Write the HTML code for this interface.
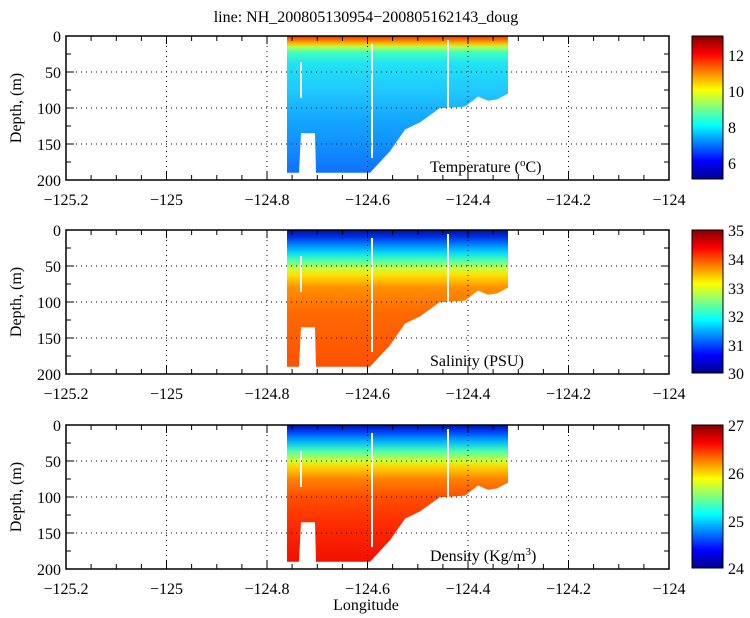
<!DOCTYPE html>
<html><head><meta charset="utf-8"><style>
body{margin:0;background:#fff}
svg{display:block}
text{font-family:"Liberation Serif",serif}
</style></head><body>
<svg width="750" height="618" viewBox="0 0 750 618" xmlns="http://www.w3.org/2000/svg" font-family="Liberation Serif, serif">
<defs>
<linearGradient id="gT" x1="0" y1="0" x2="0" y2="1">
<stop offset="0" stop-color="#e83000"/><stop offset="0.025" stop-color="#ff6a00"/><stop offset="0.05" stop-color="#ffb000"/><stop offset="0.08" stop-color="#b8ff48"/><stop offset="0.12" stop-color="#40ffc0"/><stop offset="0.2" stop-color="#20e4f4"/><stop offset="0.4" stop-color="#20c8ff"/><stop offset="0.6" stop-color="#14a8ff"/><stop offset="0.8" stop-color="#1090ff"/><stop offset="1" stop-color="#1070ff"/></linearGradient>
<linearGradient id="gS" x1="0" y1="0" x2="0" y2="1">
<stop offset="0" stop-color="#0010a0"/><stop offset="0.05" stop-color="#0030e0"/><stop offset="0.1" stop-color="#0078ff"/><stop offset="0.16" stop-color="#00d4ff"/><stop offset="0.22" stop-color="#48ffb0"/><stop offset="0.28" stop-color="#c8ff40"/><stop offset="0.33" stop-color="#ffe000"/><stop offset="0.42" stop-color="#ff9000"/><stop offset="0.6" stop-color="#ff6a00"/><stop offset="1" stop-color="#ff5000"/></linearGradient>
<linearGradient id="gD" x1="0" y1="0" x2="0" y2="1">
<stop offset="0" stop-color="#0010a0"/><stop offset="0.05" stop-color="#0040ff"/><stop offset="0.12" stop-color="#00b4ff"/><stop offset="0.19" stop-color="#48ffb0"/><stop offset="0.26" stop-color="#d0ff30"/><stop offset="0.31" stop-color="#ffd000"/><stop offset="0.4" stop-color="#ff8000"/><stop offset="0.52" stop-color="#ff5000"/><stop offset="0.72" stop-color="#ff2c00"/><stop offset="1" stop-color="#f01000"/></linearGradient>
<linearGradient id="jet" x1="0" y1="1" x2="0" y2="0">
<stop offset="0" stop-color="#00008f"/><stop offset="0.125" stop-color="#0000ff"/><stop offset="0.375" stop-color="#00ffff"/><stop offset="0.625" stop-color="#ffff00"/><stop offset="0.875" stop-color="#ff0000"/><stop offset="1" stop-color="#800000"/></linearGradient>
</defs>

<text x="366" y="22" font-size="16" text-anchor="middle">line: NH_200805130954−200805162143_doug</text>

<!-- ============ Panel 1 ============ -->
<g transform="translate(0,36)">
<path d="M287,0 L508,0 L508,57.6 L497,63.4 L488,64.8 L478,60.5 L465,70.6 L445,72 L440,72 L420,86.4 L405,93.6 L390,115.2 L380,126 L370,136.8 L316,136.8 L315,97.2 L301,97.2 L299,136.8 L287,136.8 Z" fill="url(#gT)"/>
<g stroke="#fff" stroke-width="2"><line x1="448" y1="4" x2="448" y2="72"/><line x1="372" y1="8" x2="372" y2="122"/><line x1="301" y1="26" x2="301" y2="62"/></g>
<g stroke="#000" stroke-width="1" stroke-dasharray="1,4" fill="none">
<path d="M166.5,0V144M267,0V144M367.5,0V144M468,0V144M568.5,0V144M66,36H669M66,72H669M66,108H669"/></g>
<rect x="66" y="0" width="603" height="144" fill="none" stroke="#000" stroke-width="1.5"/>
<g stroke="#000" stroke-width="1">
<path d="M91.1,0v5M116.3,0v5M141.4,0v5M166.5,0v8M191.6,0v5M216.8,0v5M241.9,0v5M267,0v8M292.1,0v5M317.3,0v5M342.4,0v5M367.5,0v8M392.6,0v5M417.8,0v5M442.9,0v5M468,0v8M493.1,0v5M518.3,0v5M543.4,0v5M568.5,0v8M593.6,0v5M618.8,0v5M643.9,0v5"/>
<path d="M91.1,144v-5M116.3,144v-5M141.4,144v-5M166.5,144v-8M191.6,144v-5M216.8,144v-5M241.9,144v-5M267,144v-8M292.1,144v-5M317.3,144v-5M342.4,144v-5M367.5,144v-8M392.6,144v-5M417.8,144v-5M442.9,144v-5M468,144v-8M493.1,144v-5M518.3,144v-5M543.4,144v-5M568.5,144v-8M593.6,144v-5M618.8,144v-5M643.9,144v-5"/>
<path d="M66,18h5M66,36h8M66,54h5M66,72h8M66,90h5M66,108h8M66,126h5M669,18h-5M669,36h-8M669,54h-5M669,72h-8M669,90h-5M669,108h-8M669,126h-5"/>
</g>
<g font-size="16" text-anchor="end"><text x="61" y="6">0</text><text x="61" y="42">50</text><text x="61" y="78">100</text><text x="61" y="114">150</text><text x="61" y="150">200</text></g>
<g font-size="16" text-anchor="middle"><text x="66" y="169">−125.2</text><text x="166.5" y="169">−125</text><text x="267" y="169">−124.8</text><text x="367.5" y="169">−124.6</text><text x="468" y="169">−124.4</text><text x="568.5" y="169">−124.2</text><text x="669" y="169">−124</text></g>
<text transform="translate(21,72) rotate(-90)" font-size="16" text-anchor="middle">Depth, (m)</text>
<text x="430" y="136" font-size="16">Temperature (<tspan font-size="11" dy="-6">o</tspan><tspan dy="6">C)</tspan></text>
<rect x="692" y="0" width="31" height="143" fill="url(#jet)" stroke="#000" stroke-width="1"/>
<g font-size="16"><text x="728" y="25">12</text><text x="728" y="61">10</text><text x="728" y="97">8</text><text x="728" y="133">6</text></g>
</g>

<!-- ============ Panel 2 ============ -->
<g transform="translate(0,230)">
<path d="M287,0 L508,0 L508,57.6 L497,63.4 L488,64.8 L478,60.5 L465,70.6 L445,72 L440,72 L420,86.4 L405,93.6 L390,115.2 L380,126 L370,136.8 L316,136.8 L315,97.2 L301,97.2 L299,136.8 L287,136.8 Z" fill="url(#gS)"/>
<g stroke="#fff" stroke-width="2"><line x1="448" y1="4" x2="448" y2="72"/><line x1="372" y1="8" x2="372" y2="122"/><line x1="301" y1="26" x2="301" y2="62"/></g>
<g stroke="#000" stroke-width="1" stroke-dasharray="1,4" fill="none">
<path d="M166.5,0V144M267,0V144M367.5,0V144M468,0V144M568.5,0V144M66,36H669M66,72H669M66,108H669"/></g>
<rect x="66" y="0" width="603" height="144" fill="none" stroke="#000" stroke-width="1.5"/>
<g stroke="#000" stroke-width="1">
<path d="M91.1,0v5M116.3,0v5M141.4,0v5M166.5,0v8M191.6,0v5M216.8,0v5M241.9,0v5M267,0v8M292.1,0v5M317.3,0v5M342.4,0v5M367.5,0v8M392.6,0v5M417.8,0v5M442.9,0v5M468,0v8M493.1,0v5M518.3,0v5M543.4,0v5M568.5,0v8M593.6,0v5M618.8,0v5M643.9,0v5"/>
<path d="M91.1,144v-5M116.3,144v-5M141.4,144v-5M166.5,144v-8M191.6,144v-5M216.8,144v-5M241.9,144v-5M267,144v-8M292.1,144v-5M317.3,144v-5M342.4,144v-5M367.5,144v-8M392.6,144v-5M417.8,144v-5M442.9,144v-5M468,144v-8M493.1,144v-5M518.3,144v-5M543.4,144v-5M568.5,144v-8M593.6,144v-5M618.8,144v-5M643.9,144v-5"/>
<path d="M66,18h5M66,36h8M66,54h5M66,72h8M66,90h5M66,108h8M66,126h5M669,18h-5M669,36h-8M669,54h-5M669,72h-8M669,90h-5M669,108h-8M669,126h-5"/>
</g>
<g font-size="16" text-anchor="end"><text x="61" y="6">0</text><text x="61" y="42">50</text><text x="61" y="78">100</text><text x="61" y="114">150</text><text x="61" y="150">200</text></g>
<g font-size="16" text-anchor="middle"><text x="66" y="169">−125.2</text><text x="166.5" y="169">−125</text><text x="267" y="169">−124.8</text><text x="367.5" y="169">−124.6</text><text x="468" y="169">−124.4</text><text x="568.5" y="169">−124.2</text><text x="669" y="169">−124</text></g>
<text transform="translate(21,72) rotate(-90)" font-size="16" text-anchor="middle">Depth, (m)</text>
<text x="430" y="136" font-size="16">Salinity (PSU)</text>
<rect x="692" y="0" width="31" height="143" fill="url(#jet)" stroke="#000" stroke-width="1"/>
<g font-size="16"><text x="728" y="6">35</text><text x="728" y="35">34</text><text x="728" y="64">33</text><text x="728" y="92">32</text><text x="728" y="121">31</text><text x="728" y="149">30</text></g>
</g>

<!-- ============ Panel 3 ============ -->
<g transform="translate(0,425)">
<path d="M287,0 L508,0 L508,57.6 L497,63.4 L488,64.8 L478,60.5 L465,70.6 L445,72 L440,72 L420,86.4 L405,93.6 L390,115.2 L380,126 L370,136.8 L316,136.8 L315,97.2 L301,97.2 L299,136.8 L287,136.8 Z" fill="url(#gD)"/>
<g stroke="#fff" stroke-width="2"><line x1="448" y1="4" x2="448" y2="72"/><line x1="372" y1="8" x2="372" y2="122"/><line x1="301" y1="26" x2="301" y2="62"/></g>
<g stroke="#000" stroke-width="1" stroke-dasharray="1,4" fill="none">
<path d="M166.5,0V144M267,0V144M367.5,0V144M468,0V144M568.5,0V144M66,36H669M66,72H669M66,108H669"/></g>
<rect x="66" y="0" width="603" height="144" fill="none" stroke="#000" stroke-width="1.5"/>
<g stroke="#000" stroke-width="1">
<path d="M91.1,0v5M116.3,0v5M141.4,0v5M166.5,0v8M191.6,0v5M216.8,0v5M241.9,0v5M267,0v8M292.1,0v5M317.3,0v5M342.4,0v5M367.5,0v8M392.6,0v5M417.8,0v5M442.9,0v5M468,0v8M493.1,0v5M518.3,0v5M543.4,0v5M568.5,0v8M593.6,0v5M618.8,0v5M643.9,0v5"/>
<path d="M91.1,144v-5M116.3,144v-5M141.4,144v-5M166.5,144v-8M191.6,144v-5M216.8,144v-5M241.9,144v-5M267,144v-8M292.1,144v-5M317.3,144v-5M342.4,144v-5M367.5,144v-8M392.6,144v-5M417.8,144v-5M442.9,144v-5M468,144v-8M493.1,144v-5M518.3,144v-5M543.4,144v-5M568.5,144v-8M593.6,144v-5M618.8,144v-5M643.9,144v-5"/>
<path d="M66,18h5M66,36h8M66,54h5M66,72h8M66,90h5M66,108h8M66,126h5M669,18h-5M669,36h-8M669,54h-5M669,72h-8M669,90h-5M669,108h-8M669,126h-5"/>
</g>
<g font-size="16" text-anchor="end"><text x="61" y="6">0</text><text x="61" y="42">50</text><text x="61" y="78">100</text><text x="61" y="114">150</text><text x="61" y="150">200</text></g>
<g font-size="16" text-anchor="middle"><text x="66" y="169">−125.2</text><text x="166.5" y="169">−125</text><text x="267" y="169">−124.8</text><text x="367.5" y="169">−124.6</text><text x="468" y="169">−124.4</text><text x="568.5" y="169">−124.2</text><text x="669" y="169">−124</text></g>
<text transform="translate(21,72) rotate(-90)" font-size="16" text-anchor="middle">Depth, (m)</text>
<text x="430" y="136" font-size="16">Density (Kg/m<tspan font-size="11" dy="-6">3</tspan><tspan dy="6">)</tspan></text>
<rect x="692" y="0" width="31" height="143" fill="url(#jet)" stroke="#000" stroke-width="1"/>
<g font-size="16"><text x="728" y="6">27</text><text x="728" y="54">26</text><text x="728" y="102">25</text><text x="728" y="149">24</text></g>
</g>

<text x="366" y="610" font-size="16" text-anchor="middle">Longitude</text>
</svg>
</body></html>
